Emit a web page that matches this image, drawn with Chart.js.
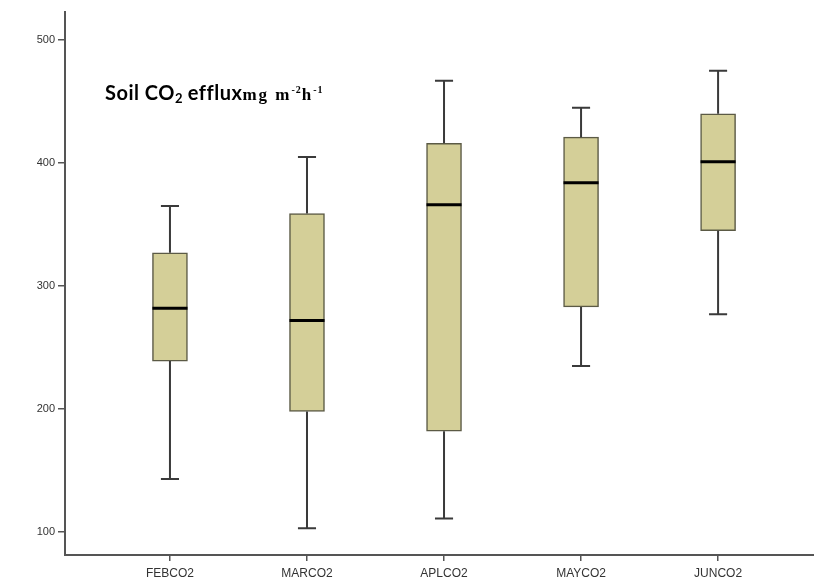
<!DOCTYPE html>
<html>
<head>
<meta charset="utf-8">
<script src="https://cdn.jsdelivr.net/npm/chart.js@4"></script>
<style>
html,body{margin:0;padding:0;background:#fff;}
canvas{display:block;}
</style>
</head>
<body>
<canvas id="c" width="814" height="585"></canvas>
<script>
const categories = ['FEBCO2','MARCO2','APLCO2','MAYCO2','JUNCO2'];
const minVals = [143, 103, 111, 235, 277];
const q1Vals  = [239, 198, 182, 283, 345];
const medVals = [282, 272, 366, 384, 401];
const q3Vals  = [327, 359, 416, 421, 440];
const maxVals = [365, 405, 467, 445, 475];
const yTicks  = [100, 200, 300, 400, 500];

const BOX_FILL = '#D4CF98';
const BOX_EDGE = '#5b5a45';
const WHISK = '#3a3a3a';
const CAP_HALF = 0.066;
const MED_HALF = 0.128;

const boxData = categories.map((c,i)=>({x:i, y:[q1Vals[i], q3Vals[i]]}));
const whiskData = [];
const capData = [];
const medData = [];
categories.forEach((c,i)=>{
  whiskData.push({x:i,y:minVals[i]},{x:i,y:q1Vals[i]},{x:i,y:null},
                 {x:i,y:q3Vals[i]},{x:i,y:maxVals[i]},{x:i,y:null});
  capData.push({x:i-CAP_HALF,y:minVals[i]},{x:i+CAP_HALF,y:minVals[i]},{x:i,y:null},
               {x:i-CAP_HALF,y:maxVals[i]},{x:i+CAP_HALF,y:maxVals[i]},{x:i,y:null});
  medData.push({x:i-MED_HALF,y:medVals[i]},{x:i+MED_HALF,y:medVals[i]},{x:i,y:null});
});

const titlePlugin = {
  id:'titleText',
  afterDraw(chart){
    const ctx = chart.ctx;
    const a = chart.chartArea;
    let x = a.left + 40, y = a.top + 88;
    ctx.save();
    ctx.fillStyle = '#000';
    ctx.textBaseline = 'alphabetic';
    ctx.textAlign = 'left';
    const big = 'bold 20px Lato, "Open Sans", sans-serif';
    const bigSub = 'bold 13px Lato, "Open Sans", sans-serif';
    const ser = 'bold 17px "Liberation Serif", serif';
    const serSup = 'bold 10px "Liberation Serif", serif';
    const parts = [
      ['Soil CO', big, 0, '0.5px'],
      ['2', bigSub, 3, '0px'],
      [' efflux', big, 0, '0.5px'],
      ['mg m', ser, 0, '2px'],
      ['-2', serSup, -7, '1px'],
      ['h', ser, 0, '2px'],
      ['-1', serSup, -7, '1px']
    ];
    parts.forEach(p=>{
      ctx.font = p[1];
      ctx.letterSpacing = p[3];
      ctx.fillText(p[0], x, y + p[2]);
      x += ctx.measureText(p[0]).width;
    });
    ctx.restore();
  }
};

new Chart(document.getElementById('c'), {
  type:'bar',
  data:{
    datasets:[
      {type:'bar', data:boxData, backgroundColor:BOX_FILL, borderColor:BOX_EDGE,
       borderWidth:1.5, borderSkipped:false, barThickness:35, order:3},
      {type:'line', data:whiskData, borderColor:WHISK, borderWidth:2, pointRadius:0,
       spanGaps:false, fill:false, tension:0, order:2},
      {type:'line', data:capData, borderColor:WHISK, borderWidth:2, pointRadius:0,
       spanGaps:false, fill:false, tension:0, order:2},
      {type:'line', data:medData, borderColor:'#000', borderWidth:3, pointRadius:0,
       spanGaps:false, fill:false, tension:0, order:1}
    ]
  },
  options:{
    responsive:false,
    animation:false,
    layout:{padding:{left:0,right:0,top:12,bottom:0}},
    plugins:{legend:{display:false}, tooltip:{enabled:false}, title:{display:false}},
    scales:{
      x:{
        type:'linear', min:-0.766, max:4.70, offset:false,
        afterBuildTicks(s){ s.ticks = categories.map((c,i)=>({value:i})); },
        afterFit(s){ s.height = 30; },
        ticks:{autoSkip:false, maxRotation:0, padding:5, color:'#333',
               font:{family:'"Liberation Sans", Arial, sans-serif', size:12},
               callback:(v)=>categories[v] ?? ''},
        grid:{display:true, offset:false, drawOnChartArea:false, drawTicks:true, tickLength:6, color:'#555', lineWidth:1.5},
        border:{display:true, color:'#555', width:2}
      },
      y:{
        type:'linear', min:81.3, max:522.8,
        afterBuildTicks(s){ s.ticks = yTicks.map(v=>({value:v})); },
        afterFit(s){ s.width = 65; },
        ticks:{padding:3, color:'#333',
               font:{family:'"Liberation Sans", Arial, sans-serif', size:11}},
        grid:{display:true, offset:false, drawOnChartArea:false, drawTicks:true, tickLength:7, color:'#555', lineWidth:1.5},
        border:{display:true, color:'#555', width:2}
      }
    }
  },
  plugins:[titlePlugin]
});
</script>
</body>
</html>
